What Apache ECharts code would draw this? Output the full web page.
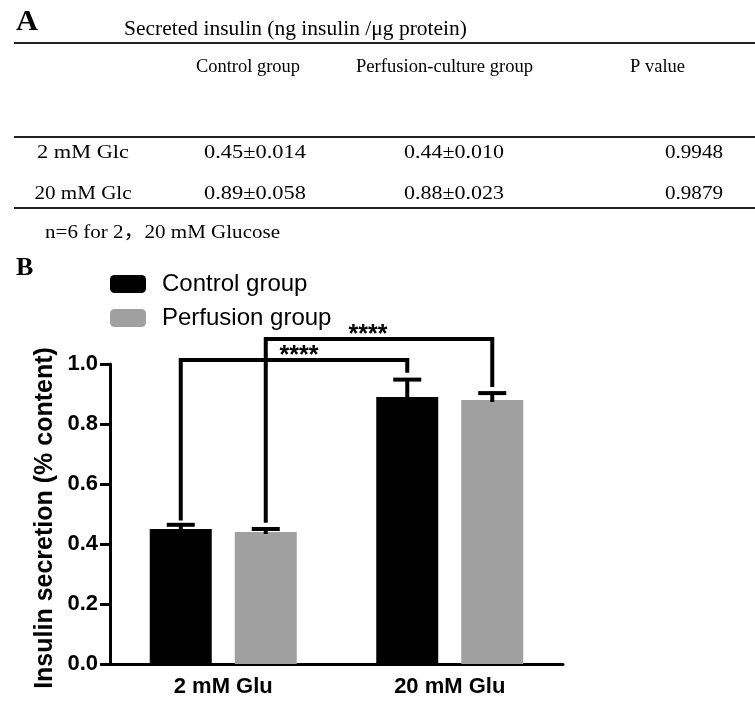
<!DOCTYPE html>
<html><head><meta charset="utf-8">
<script src="https://cdn.jsdelivr.net/npm/echarts@6/dist/echarts.min.js"></script>
<style>html,body{margin:0;padding:0;background:#fff}#chart{width:755px;height:701px}</style>
</head><body><div id="chart"></div>
<script>
// ---------- data ----------
const categories = ['2 mM Glu', '20 mM Glu'];
const seriesNames = ['Control group', 'Perfusion group'];
const controlMean = [0.45, 0.89];
const controlSEM = [0.014, 0.058];
const perfusionMean = [0.44, 0.88];
const perfusionSEM = [0.010, 0.023];
const yMin = 0, yMax = 1.0, yInterval = 0.2;
// significance brackets: [fromCat, fromSeries, toCat, toSeries, leftLegStart, top, rightLegEnd]
const brackets = [
  [0, 0, 1, 0, 0.478, 1.013, 0.971],
  [0, 1, 1, 1, 0.471, 1.083, 0.923]
];
const bracketLabels = ['****', '****'];
// table (panel A)
const tableTitle = 'Secreted insulin (ng insulin /\u03bcg protein)';
const tableHeaders = ['Control group', 'Perfusion-culture group', 'P value'];
const tableRowLabels = ['2 mM Glc', '20 mM Glc'];
const pValues = ['0.9948', '0.9879'];
const footnote = 'n=6 for 2\uff0c20 mM Glucose';

// ---------- layout / style ----------
const SERIF = "'Liberation Serif','Times New Roman','Noto Sans CJK SC',serif";
const SANS = "'Liberation Sans',Arial,sans-serif";
const BAR_W = 62, BAR_GAP_PX = 23;
const offsets = [-(BAR_W + BAR_GAP_PX) / 2, (BAR_W + BAR_GAP_PX) / 2];
const colors = ['#000000', '#a0a0a0'];
const starDx = [5, -11];

const mctx = document.createElement('canvas').getContext('2d');
function fitScale(str, size, weight, family, target) {
  mctx.font = weight + ' ' + size + 'px ' + family;
  const w = mctx.measureText(str).width;
  return target ? target / w : 1;
}
function tText(str, x, y, size, align, targetW, weight, family) {
  weight = weight || 'normal'; family = family || SERIF;
  return {
    type: 'text', x: x, y: y, scaleX: fitScale(str, size, weight, family, targetW),
    style: { text: str, x: 0, y: 0, fontSize: size, fontWeight: weight, fontFamily: family,
      fill: '#000', align: align, verticalAlign: 'middle' }
  };
}
function hLine(y) {
  return { type: 'line', shape: { x1: 14, y1: y, x2: 755, y2: y }, style: { stroke: '#222', lineWidth: 2 } };
}
const fmt = (m, s) => m.toFixed(2) + '\u00b1' + s.toFixed(3);

const graphics = [
  tText('A', 16, 22, 30, 'left', 22, 'bold'),
  tText(tableTitle, 124, 29, 21.6, 'left', 343),
  hLine(43),
  tText(tableHeaders[0], 248, 67, 19, 'center', 104),
  tText(tableHeaders[1], 444.5, 67, 19, 'center', 177),
  tText(tableHeaders[2], 657.5, 67, 19, 'center', 55),
  hLine(137),
  hLine(208),
  tText(footnote, 45, 233, 19.5, 'left', 235),
  tText('B', 16, 268.5, 26, 'left', null, 'bold'),
  {
    type: 'text', x: 45, y: 518, rotation: Math.PI / 2,
    style: { text: 'Insulin secretion (% content)', fontSize: 25, fontWeight: 'bold', fontFamily: SANS,
      fill: '#000', align: 'center', verticalAlign: 'middle' }
  }
];
const rowY = [152.5, 194];
const rowLabelW = [92, 97];
tableRowLabels.forEach((lab, i) => {
  graphics.push(tText(lab, 83, rowY[i], 19.5, 'center', rowLabelW[i]));
  graphics.push(tText(fmt(controlMean[i], controlSEM[i]), 255, rowY[i], 19.5, 'center', 102));
  graphics.push(tText(fmt(perfusionMean[i], perfusionSEM[i]), 454, rowY[i], 19.5, 'center', 100));
  graphics.push(tText(pValues[i], 723, rowY[i], 19.5, 'right', 58));
});

const means = [controlMean, perfusionMean];
const sems = [controlSEM, perfusionSEM];

function errorSeries(s) {
  return {
    type: 'custom', name: seriesNames[s] + ' SEM', z: 3,
    encode: { x: 0, y: [1, 2] },
    data: categories.map((c, i) => [i, means[s][i], means[s][i] + sems[s][i]]),
    renderItem: function (params, api) {
      const xc = api.coord([api.value(0), 0])[0] + offsets[s];
      const base = api.coord([api.value(0), api.value(1)])[1];
      const top = api.coord([api.value(0), api.value(2)])[1];
      return { type: 'group', children: [
        { type: 'line', shape: { x1: xc, y1: base + 2, x2: xc, y2: top }, style: { stroke: '#000', lineWidth: 4 } },
        { type: 'line', shape: { x1: xc - 14, y1: top, x2: xc + 14, y2: top }, style: { stroke: '#000', lineWidth: 4 } }
      ] };
    }
  };
}

const option = {
  backgroundColor: '#fff',
  animation: false,
  graphic: graphics,
  legend: {
    data: seriesNames, orient: 'vertical', left: 110, top: 272, padding: 0,
    icon: 'roundRect', itemWidth: 36, itemHeight: 18, itemGap: 10, selectedMode: false,
    textStyle: { fontSize: 24, lineHeight: 24, fontFamily: SANS, color: '#000', padding: [0, 0, 0, 11] }
  },
  grid: { left: 110, right: 192, top: 364, bottom: 37 },
  xAxis: {
    type: 'category', data: categories,
    axisLine: { lineStyle: { color: '#000', width: 3 } },
    axisTick: { alignWithLabel: true, length: 8, lineStyle: { color: '#000', width: 3 } },
    axisLabel: { fontSize: 22, fontWeight: 'bold', fontFamily: SANS, color: '#000', margin: 12 }
  },
  yAxis: {
    type: 'value', min: yMin, max: yMax, interval: yInterval,
    splitLine: { show: false },
    axisLine: { show: true, lineStyle: { color: '#000', width: 3 } },
    axisTick: { show: true, length: 10, lineStyle: { color: '#000', width: 3 } },
    axisLabel: { fontSize: 22, fontWeight: 'bold', fontFamily: SANS, color: '#000', margin: 12,
      formatter: v => v.toFixed(1) }
  },
  series: [
    { type: 'bar', name: seriesNames[0], data: controlMean, barWidth: BAR_W, barGap: (BAR_GAP_PX / BAR_W * 100).toFixed(1) + '%',
      itemStyle: { color: colors[0] } },
    { type: 'bar', name: seriesNames[1], data: perfusionMean, barWidth: BAR_W, barGap: (BAR_GAP_PX / BAR_W * 100).toFixed(1) + '%',
      itemStyle: { color: colors[1] } },
    errorSeries(0),
    errorSeries(1),
    {
      type: 'custom', name: 'significance', z: 4,
      encode: { x: [0, 2], y: [4, 5, 6] },
      data: brackets,
      renderItem: function (params, api) {
        const fromCat = api.value(0), fromS = api.value(1), toCat = api.value(2), toS = api.value(3);
        const xl = api.coord([fromCat, 0])[0] + offsets[fromS];
        const xr = api.coord([toCat, 0])[0] + offsets[toS];
        const yl = api.coord([fromCat, api.value(4)])[1];
        const yt = api.coord([fromCat, api.value(5)])[1];
        const yr = api.coord([toCat, api.value(6)])[1];
        return { type: 'group', children: [
          { type: 'polyline', shape: { points: [[xl, yl], [xl, yt], [xr, yt], [xr, yr]] },
            style: { stroke: '#000', lineWidth: 4, fill: null, lineJoin: 'miter' } },
          { type: 'text', x: (xl + xr) / 2 + starDx[params.dataIndex], y: yt - 4,
            style: { text: bracketLabels[params.dataIndex], fontSize: 25, fontWeight: 'bold', fontFamily: SANS, fill: '#000',
              align: 'center', verticalAlign: 'middle' } }
        ] };
      }
    }
  ]
};

const chart = echarts.init(document.getElementById('chart'), null, { renderer: 'canvas' });
chart.setOption(option);
</script>
</body></html>
